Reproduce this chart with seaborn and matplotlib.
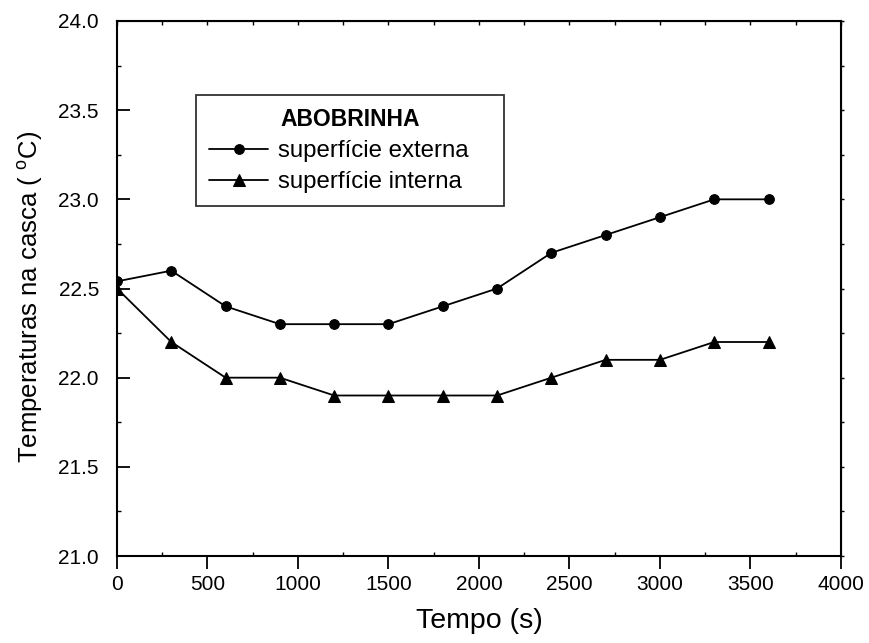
import numpy as np
import pandas as pd
import matplotlib
matplotlib.use("Agg")
import matplotlib.pyplot as plt
import seaborn as sns
from matplotlib.ticker import MultipleLocator

# Tempo (s)
tempo = [0, 300, 600, 900, 1200, 1500, 1800, 2100, 2400, 2700, 3000, 3300, 3600]
# Temperaturas (°C)
externa = [22.54, 22.6, 22.4, 22.3, 22.3, 22.3, 22.4, 22.5, 22.7, 22.8, 22.9, 23.0, 23.0]
interna = [22.5, 22.2, 22.0, 22.0, 21.9, 21.9, 21.9, 21.9, 22.0, 22.1, 22.1, 22.2, 22.2]
series_names = ["superfície externa", "superfície interna"]

df = pd.DataFrame({
    "tempo": tempo * 2,
    "temp": externa + interna,
    "serie": [series_names[0]] * len(tempo) + [series_names[1]] * len(tempo),
})

sns.set_style("ticks")
plt.rcParams["font.family"] = ["Liberation Sans", "DejaVu Sans"]
plt.rcParams["text.color"] = "black"
plt.rcParams["axes.labelcolor"] = "black"
plt.rcParams["xtick.color"] = "black"
plt.rcParams["ytick.color"] = "black"

fig = plt.figure(figsize=(8.7, 6.43), dpi=100)
ax = fig.add_axes([117 / 870, 1 - 556 / 643, 724 / 870, 535 / 643])

sns.lineplot(
    data=df, x="tempo", y="temp", hue="serie", style="serie",
    markers={series_names[0]: "o", series_names[1]: "^"},
    dashes=False, palette=["black", "black"], linewidth=1.3,
    markersize=7, markeredgecolor="black", ax=ax,
)
# triangles a bit larger than the circles
for ln in ax.lines:
    if ln.get_marker() == "^":
        ln.set_markersize(8.5)

ax.set_xlim(0, 4000)
ax.set_ylim(21.0, 24.0)
ax.xaxis.set_major_locator(MultipleLocator(500))
ax.xaxis.set_minor_locator(MultipleLocator(250))
ax.yaxis.set_major_locator(MultipleLocator(0.5))
ax.yaxis.set_minor_locator(MultipleLocator(0.25))
ax.yaxis.set_major_formatter(matplotlib.ticker.FormatStrFormatter("%.1f"))

ax.tick_params(axis="x", which="major", direction="out", length=9, width=1.3, labelsize=15, pad=5)
ax.tick_params(axis="x", which="minor", direction="in", length=3, width=1.0)
ax.tick_params(axis="y", which="major", direction="in", length=9, width=1.3, labelsize=15, pad=13)
ax.tick_params(axis="y", which="minor", direction="in", length=3, width=1.0)
for s in ax.spines.values():
    s.set_linewidth(1.5)
    s.set_color("black")

top = ax.secondary_xaxis("top")
top.xaxis.set_major_locator(MultipleLocator(250))
top.tick_params(direction="in", length=3, width=1.0, labeltop=False)
right = ax.secondary_yaxis("right")
right.yaxis.set_major_locator(MultipleLocator(0.25))
right.tick_params(direction="out", length=2, width=1.0, labelright=False)

ax.set_xlabel("Tempo (s)", fontsize=20.5, labelpad=10)
ax.set_ylabel("Temperaturas na casca ( $^{\\mathregular{o}}$C)", fontsize=18.5)
ax.yaxis.set_label_coords(-0.0995, 0.485)

leg = ax.legend(
    title="ABOBRINHA", loc="center", bbox_to_anchor=(0.109, 0.654, 0.426, 0.208),
    mode="expand", frameon=True, fancybox=False, fontsize=17.3,
    title_fontproperties={"weight": "bold", "size": 16.5},
    handlelength=2.45, handletextpad=0.42, labelspacing=0.38, borderpad=0.55, borderaxespad=0,
)
leg.get_frame().set_edgecolor("black")
leg.get_frame().set_linewidth(1.3)

fig.savefig("out.png", dpi=100)
